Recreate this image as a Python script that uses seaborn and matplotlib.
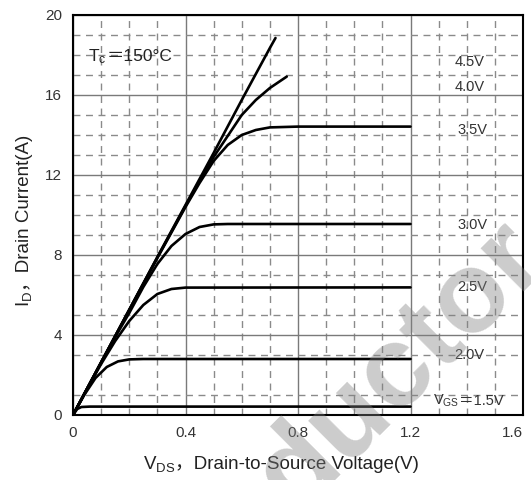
import numpy as np
import pandas as pd
import matplotlib
matplotlib.use("Agg")
import matplotlib.pyplot as plt
import seaborn as sns

# Output characteristics, Tc = 150 °C: drain current vs drain-source voltage per gate voltage
vgs_labels = ["4.5V", "4.0V", "3.5V", "3.0V", "2.5V", "2.0V", "1.5V"]

vds_45 = [0, 0.1, 0.2, 0.3, 0.4, 0.5, 0.6, 0.7, 0.72]
id_45 = [0, 2.63, 5.26, 7.9, 10.5, 13.1, 15.75, 18.35, 18.85]

vds_40 = [0, 0.1, 0.2, 0.3, 0.4, 0.45, 0.5, 0.55, 0.6, 0.65, 0.7, 0.76]
id_40 = [0, 2.63, 5.26, 7.88, 10.45, 11.7, 12.9, 13.95, 15.0, 15.75, 16.35, 16.92]

vds_35 = [0, 0.1, 0.2, 0.3, 0.4, 0.45, 0.5, 0.55, 0.6, 0.65, 0.7, 0.8, 1.2]
id_35 = [0, 2.63, 5.25, 7.85, 10.4, 11.6, 12.7, 13.5, 14.0, 14.25, 14.38, 14.42, 14.42]

vds_30 = [0, 0.1, 0.15, 0.2, 0.25, 0.3, 0.35, 0.4, 0.45, 0.5, 0.55, 1.2]
id_30 = [0, 2.63, 3.9, 5.1, 6.4, 7.55, 8.45, 9.05, 9.4, 9.53, 9.55, 9.55]

vds_25 = [0, 0.05, 0.1, 0.15, 0.2, 0.25, 0.3, 0.35, 0.4, 1.2]
id_25 = [0, 1.3, 2.55, 3.7, 4.7, 5.5, 6.05, 6.3, 6.37, 6.38]

vds_20 = [0, 0.04, 0.08, 0.12, 0.16, 0.2, 0.25, 1.2]
id_20 = [0, 1.0, 1.85, 2.4, 2.68, 2.78, 2.8, 2.8]

vds_15 = [0, 0.015, 0.03, 0.06, 1.2]
id_15 = [0, 0.3, 0.4, 0.42, 0.42]

# curve labels at the right (data coordinates)
label_x = [1.41, 1.41, 1.42, 1.42, 1.42, 1.41]
label_y = [17.65, 16.4, 14.25, 9.5, 6.4, 3.0]
label_text = ["4.5V", "4.0V", "3.5V", "3.0V", "2.5V", "2.0V"]

x_ticks = [0, 0.4, 0.8, 1.2, 1.6]
x_tick_labels = ["0", "0.4", "0.8", "1.2", "1.6"]
y_ticks = [0, 4, 8, 12, 16, 20]
y_tick_labels = ["0", "4", "8", "12", "16", "20"]
x_minor = [0.1, 0.2, 0.3, 0.5, 0.6, 0.7, 0.9, 1.0, 1.1, 1.3, 1.4, 1.5]
y_minor = [1, 3, 5, 7, 9, 10, 11, 13, 14, 15, 17, 18, 19]

series = [
    (vds_45, id_45), (vds_40, id_40), (vds_35, id_35), (vds_30, id_30),
    (vds_25, id_25), (vds_20, id_20), (vds_15, id_15),
]
frames = []
for name, (vx, vy) in zip(vgs_labels, series):
    frames.append(pd.DataFrame({"Vds": vx, "Id": vy, "Vgs": name}))
df = pd.concat(frames, ignore_index=True)

sns.set_style("white")
FAMILY = ["Liberation Sans", "Noto Sans CJK SC", "DejaVu Sans"]
plt.rcParams["font.family"] = FAMILY
plt.rcParams["mathtext.fontset"] = "custom"
plt.rcParams["mathtext.rm"] = "Liberation Sans"

fig = plt.figure(figsize=(5.31, 4.80), dpi=100)
ax = fig.add_axes([73 / 531, 65 / 480, 450 / 531, 400 / 480])

sns.lineplot(data=df, x="Vds", y="Id", hue="Vgs", units="Vgs", estimator=None,
             sort=False, palette=["black"] * len(vgs_labels), legend=False,
             linewidth=1.9, ax=ax, zorder=4)

ax.set_xlim(0, 1.6)
ax.set_ylim(0, 20)
ax.set_xticks(x_ticks)
ax.set_xticklabels(x_tick_labels)
ax.set_yticks(y_ticks)
ax.set_yticklabels(y_tick_labels)
ax.set_xticks(x_minor, minor=True)
ax.set_yticks(y_minor, minor=True)
ax.tick_params(which="both", length=0)
ax.tick_params(axis="x", which="major", pad=8, labelsize=11, labelcolor="#333333")
ax.tick_params(axis="y", which="major", pad=8, labelsize=11, labelcolor="#333333")
ax.get_xticklabels()[-1].set_horizontalalignment("right")

ax.grid(which="major", color="#7a7a7a", linewidth=1.0, linestyle="-", zorder=1)
ax.grid(which="minor", color="#8a8a8a", linewidth=1.0, linestyle=(0, (5, 4)), zorder=1)
ax.set_axisbelow(True)

for side in ["left", "right", "top", "bottom"]:
    ax.spines[side].set_visible(True)
    ax.spines[side].set_color("black")
    ax.spines[side].set_linewidth(1.5)

ax.set_xlabel("")
ax.set_ylabel("")

for lx, ly, txt in zip(label_x, label_y, label_text):
    ax.text(lx, ly, txt, ha="center", va="center", fontsize=10.5, color="#333333", zorder=5)


def symbol_then_text(x, y, symbol, rest, size, color, coords, rotation=0):
    """Draw a mathtext symbol with subscript, followed by plain text on the same baseline."""
    first = ax.text(x, y, symbol, transform=coords, fontsize=size, color=color,
                    ha="left", va="baseline", rotation=rotation, rotation_mode="anchor",
                    zorder=6, clip_on=False)
    if rotation == 90:
        ax.annotate(rest, xy=(x, 1), xycoords=(coords, first), fontsize=size, color=color,
                    ha="left", va="baseline", rotation=90, rotation_mode="anchor",
                    family=FAMILY, annotation_clip=False, zorder=6)
    else:
        ax.annotate(rest, xy=(1, y), xycoords=(first, coords), fontsize=size, color=color,
                    ha="left", va="baseline", family=FAMILY, annotation_clip=False, zorder=6)


# bottom label at the right of the curve set
symbol_then_text(1.28, 0.5, "$\\mathregular{V_{GS}}$", "＝1.5V", 10.5, "#333333", ax.transData)
# case temperature note
symbol_then_text(0.053, 17.7, "$\\mathregular{T_c}$", "＝150°C", 12.5, "#222222", ax.transData)
# axis titles
symbol_then_text(143 / 531, 1 - 469 / 480, "$\\mathregular{V_{DS}}$",
                 "，Drain-to-Source Voltage(V)", 13.5, "#222222", fig.transFigure)
symbol_then_text(29 / 531, 1 - 307 / 480, "$\\mathregular{I_D}$",
                 "，Drain Current(A)", 13.5, "#222222", fig.transFigure, rotation=90)

# company watermark across the lower right
fig.text(550 / 531, 1 - 262 / 480, "Semiconductor", ha="right", va="baseline",
         rotation=45, rotation_mode="anchor", fontsize=83, fontweight="bold",
         color="#808080", alpha=0.40, zorder=10)

fig.savefig("out.png", dpi=100)
